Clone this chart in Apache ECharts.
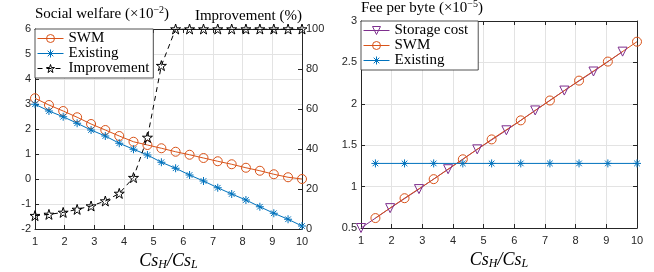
<!DOCTYPE html>
<html style="height: 100%">
<head>
<meta charset="utf-8">
</head>
<body style="height: 100%; margin: 0; background: #fff">
<div id="container" style="width: 654px; height: 272px"></div>
<script type="text/javascript" src="https://cdn.jsdelivr.net/npm/echarts@6.0.0/dist/echarts.min.js"></script>
<script type="text/javascript">
// left panel: social welfare and improvement
var ratioX = [1, 1.47, 1.95, 2.42, 2.89, 3.37, 3.84, 4.32, 4.79, 5.26, 5.74, 6.21, 6.68, 7.16, 7.63, 8.11, 8.58, 9.05, 9.53, 10];
var swmWelfare = [3.23, 2.96, 2.72, 2.47, 2.2, 1.96, 1.72, 1.49, 1.36, 1.23, 1.09, 0.97, 0.84, 0.71, 0.59, 0.45, 0.33, 0.19, 0.07, 0];
var existingWelfare = [2.99, 2.72, 2.49, 2.23, 1.96, 1.72, 1.43, 1.19, 0.96, 0.67, 0.43, 0.16, -0.08, -0.35, -0.6, -0.84, -1.11, -1.37, -1.61, -1.88];
var improvement = [6.7, 7.3, 8.3, 9.8, 11.5, 14, 17.8, 25.7, 45.8, 81.7, 100, 100, 100, 100, 100, 100, 100, 100, 100, 100];

// right panel: fee per byte
var costX = [1, 1.95, 2.89, 3.84, 4.79, 5.74, 6.68, 7.63, 8.58, 9.53];
var storageCost = [0.5, 0.74, 0.97, 1.21, 1.45, 1.68, 1.92, 2.16, 2.39, 2.63];
var feeX = [1.47, 2.42, 3.37, 4.32, 5.26, 6.21, 7.16, 8.11, 9.05, 10];
var swmFee = [0.62, 0.86, 1.09, 1.33, 1.57, 1.8, 2.04, 2.28, 2.51, 2.75];
var existingFee = [1.28, 1.28, 1.28, 1.28, 1.28, 1.28, 1.28, 1.28, 1.28, 1.28];

var leftLegend = ['SWM', 'Existing', 'Improvement'];
var rightLegend = ['Storage cost', 'SWM', 'Existing'];

var dom = document.getElementById('container');
var myChart = echarts.init(dom);

var ink = '#262626';
var gridGray = '#e3e3e3';
var serif = 'Liberation Serif';
var sans = 'Liberation Sans';
var clear = 'rgba(255,255,255,0)';

var asterisk = 'path://M0,-1L0,1M-1,0L1,0M-0.7,-0.7L0.7,0.7M-0.7,0.7L0.7,-0.7';
var pentagram = 'path://M0,-1L0.2245,-0.309L0.951,-0.309L0.363,0.118L0.588,0.809L0,0.382L-0.588,0.809L-0.363,0.118L-0.951,-0.309L-0.2245,-0.309Z';
var circle = 'path://M1,0A1,1,0,1,1,-1,0A1,1,0,1,1,1,0Z';
var triDown = 'path://M-1,-0.85L1,-0.85L0,0.9Z';

// marker and line look per legend name
var looks = {
    'SWM': { symbol: circle, size: 9, color: '#D95319', dash: 'solid' },
    'Existing': { symbol: asterisk, size: 8, color: '#0072BD', dash: 'solid' },
    'Improvement': { symbol: pentagram, size: 10, color: '#000', dash: [5, 4] },
    'Storage cost': { symbol: triDown, size: 9, color: '#7E2F8E', dash: 'solid' }
};

function zip(xs, ys) {
    return xs.map(function (x, i) { return [x, ys[i]]; });
}

var ratioName = '{i|Cs}{sb|H}{i|/Cs}{sb|L}';
var ratioRich = {
    i: { fontFamily: serif, fontStyle: 'italic', fontSize: 18, color: '#000' },
    sb: { fontFamily: serif, fontStyle: 'italic', fontSize: 12, color: '#000', padding: [8, 0, 0, 0] }
};
var supRich = {
    t: { fontFamily: serif, fontSize: 15, color: '#000' },
    sup: { fontFamily: serif, fontSize: 10, color: '#000', padding: [0, 0, 9, 0] }
};

function xAxisDef(gridIndex, bottom) {
    return {
        gridIndex: gridIndex,
        type: 'value',
        position: bottom ? 'bottom' : 'top',
        min: 1, max: 10, interval: 1,
        axisLine: { show: true, onZero: false, lineStyle: { color: ink, width: 1 } },
        axisTick: { show: true, inside: true, length: 4, lineStyle: { color: ink } },
        axisLabel: { show: bottom, color: ink, fontFamily: sans, fontSize: 11, margin: 7 },
        splitLine: { show: bottom, lineStyle: { color: gridGray } },
        name: bottom ? ratioName : '',
        nameLocation: 'middle',
        nameGap: 12,
        nameTextStyle: { rich: ratioRich }
    };
}

function yAxisDef(gridIndex, left, min, max, interval, labels, split) {
    return {
        gridIndex: gridIndex,
        type: 'value',
        position: left ? 'left' : 'right',
        min: min, max: max, interval: interval,
        axisLine: { show: true, onZero: false, lineStyle: { color: ink, width: 1 } },
        axisTick: { show: true, inside: true, length: 4, lineStyle: { color: ink } },
        axisLabel: { show: labels, color: ink, fontFamily: sans, fontSize: 11, margin: 4 },
        splitLine: { show: split, lineStyle: { color: gridGray } }
    };
}

var yLeft = yAxisDef(0, true, -2, 6, 1, true, true);
yLeft.name = '{t|Social welfare (×10}{sup|−2}{t|)}';
yLeft.nameLocation = 'end';
yLeft.nameGap = 5;
yLeft.nameTextStyle = { align: 'left', verticalAlign: 'bottom', rich: supRich };

var yImp = yAxisDef(0, false, 0, 100, 20, true, false);
yImp.name = '{t|Improvement (%)}';
yImp.nameLocation = 'end';
yImp.nameGap = 5;
yImp.nameTextStyle = { align: 'right', verticalAlign: 'bottom', rich: supRich };

var yFee = yAxisDef(1, true, 0.5, 3, 0.5, true, true);
yFee.name = '{t|Fee per byte (×10}{sup|−5}{t|)}';
yFee.nameLocation = 'end';
yFee.nameGap = 3;
yFee.nameTextStyle = { align: 'left', verticalAlign: 'bottom', rich: supRich };

var yFeeRight = yAxisDef(1, false, 0.5, 3, 0.5, false, false);

function legendDef(names, left, top, padRight) {
    return {
        data: names.map(function (n) {
            var k = looks[n];
            return {
                name: n,
                itemStyle: { color: clear, borderColor: k.color, borderWidth: 1 },
                lineStyle: { color: k.color, width: 1, type: k.dash }
            };
        }),
        orient: 'vertical',
        left: left, top: top,
        itemWidth: 26, itemHeight: 10, itemGap: 0,
        padding: [2, padRight, 2, 2],
        borderColor: ink, borderWidth: 0.8, borderRadius: 0,
        backgroundColor: '#fff',
        textStyle: { fontFamily: serif, fontSize: 15, color: '#000' }
    };
}

function lineSeries(name, xi, yi, data) {
    var k = looks[name];
    return {
        name: name, type: 'line', xAxisIndex: xi, yAxisIndex: yi,
        data: data,
        symbol: k.symbol, symbolSize: k.size,
        itemStyle: { color: clear, borderColor: k.color, borderWidth: 1 },
        lineStyle: { color: k.color, width: 1, type: k.dash },
        emphasis: { disabled: true }
    };
}

option = {
    animation: false,
    backgroundColor: '#fff',
    grid: [
        { left: 35, right: 352, top: 29, bottom: 43, containLabel: false, outerBoundsMode: 'none' },
        { left: 361, right: 17, top: 21, bottom: 44, containLabel: false, outerBoundsMode: 'none' }
    ],
    xAxis: [xAxisDef(0, true), xAxisDef(0, false), xAxisDef(1, true), xAxisDef(1, false)],
    yAxis: [yLeft, yImp, yFee, yFeeRight],
    legend: [legendDef(leftLegend, 35, 29, 4), legendDef(rightLegend, 361, 21, 10)],
    series: [
        lineSeries('SWM', 0, 0, zip(ratioX, swmWelfare)),
        lineSeries('Existing', 0, 0, zip(ratioX, existingWelfare)),
        lineSeries('Improvement', 0, 1, zip(ratioX, improvement)),
        lineSeries('Storage cost', 2, 2, zip(costX, storageCost)),
        lineSeries('SWM', 2, 2, zip(feeX, swmFee)),
        lineSeries('Existing', 2, 2, zip(feeX, existingFee))
    ]
};

if (option && typeof option === 'object') {
    myChart.setOption(option, true);
}
</script>
</body>
</html>
